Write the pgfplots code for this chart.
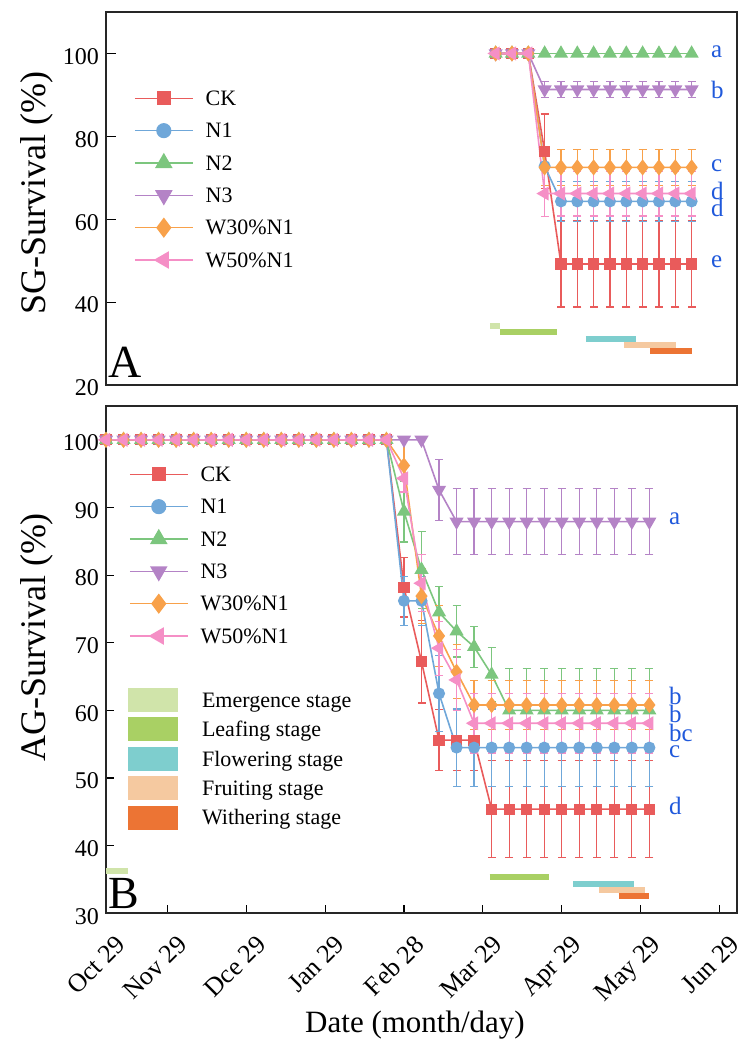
\documentclass[border=0pt]{standalone}
\usepackage{fontspec}
\setmainfont{Liberation Serif}
\usepackage{pgfplots}
\usepackage{pgfplotstable}
\pgfplotsset{compat=1.18}
\definecolor{cCK}{HTML}{E95B5B}
\definecolor{cNa}{HTML}{6FA7D9}
\definecolor{cNb}{HTML}{7CC67E}
\definecolor{cNc}{HTML}{B483C6}
\definecolor{cWa}{HTML}{F8A14A}
\definecolor{cWb}{HTML}{F58FC6}
\definecolor{cLet}{HTML}{2059DB}
\definecolor{cEm}{HTML}{D0E4AA}
\definecolor{cLe}{HTML}{A9D064}
\definecolor{cFl}{HTML}{7ECECE}
\definecolor{cFr}{HTML}{F5C9A0}
\definecolor{cWi}{HTML}{EC7434}

\pgfplotstableread{
i CK CKe N1 N1e N2 N2e N3 N3e W3 W3e W5 W5e
0 100 0 100 0 100 0 100 0 100 0 100 0
1 100 0 100 0 100 0 100 0 100 0 100 0
2 100 0 100 0 100 0 100 0 100 0 100 0
3 76.4 9.0 72.8 4.6 100 0 91.3 2.0 72.5 4.3 66.2 5.5
4 49.2 10.4 64.3 4.8 100 0 91.3 2.0 72.5 4.3 66.2 5.4
5 49.2 10.4 64.3 4.8 100 0 91.3 2.0 72.5 4.3 66.2 5.4
6 49.2 10.4 64.3 4.8 100 0 91.3 2.0 72.5 4.3 66.2 5.4
7 49.2 10.4 64.3 4.8 100 0 91.3 2.0 72.5 4.3 66.2 5.4
8 49.2 10.4 64.3 4.8 100 0 91.3 2.0 72.5 4.3 66.2 5.4
9 49.2 10.4 64.3 4.8 100 0 91.3 2.0 72.5 4.3 66.2 5.4
10 49.2 10.4 64.3 4.8 100 0 91.3 2.0 72.5 4.3 66.2 5.4
11 49.2 10.4 64.3 4.8 100 0 91.3 2.0 72.5 4.3 66.2 5.4
12 49.2 10.4 64.3 4.8 100 0 91.3 2.0 72.5 4.3 66.2 5.4
}\topdata

\pgfplotstableread{
i CK CKe N1 N1e N2 N2e N3 N3e W3 W3e W5 W5e
0 100 0 100 0 100 0 100 0 100 0 100 0
1 100 0 100 0 100 0 100 0 100 0 100 0
2 100 0 100 0 100 0 100 0 100 0 100 0
3 100 0 100 0 100 0 100 0 100 0 100 0
4 100 0 100 0 100 0 100 0 100 0 100 0
5 100 0 100 0 100 0 100 0 100 0 100 0
6 100 0 100 0 100 0 100 0 100 0 100 0
7 100 0 100 0 100 0 100 0 100 0 100 0
8 100 0 100 0 100 0 100 0 100 0 100 0
9 100 0 100 0 100 0 100 0 100 0 100 0
10 100 0 100 0 100 0 100 0 100 0 100 0
11 100 0 100 0 100 0 100 0 100 0 100 0
12 100 0 100 0 100 0 100 0 100 0 100 0
13 100 0 100 0 100 0 100 0 100 0 100 0
14 100 0 100 0 100 0 100 0 100 0 100 0
15 100 0 100 0 100 0 100 0 100 0 100 0
16 100 0 100 0 100 0 100 0 100 0 100 0
17 78.2 4.4 76.2 3.6 89.4 4.5 100 0 96.2 3.8 94.3 2.0
18 67.2 6.1 76.2 3.6 80.8 5.7 100 0 76.9 4.0 78.8 4.2
19 55.6 4.5 62.5 5.6 74.5 3.8 92.6 4.5 71.0 4.5 69.2 4.0
20 55.6 4.5 54.5 5.7 71.7 3.8 87.9 4.9 65.7 4.0 64.5 4.5
21 55.6 4.5 54.5 5.7 69.4 3.0 87.9 4.9 60.8 3.6 58.1 4.4
22 45.4 7.2 54.5 5.7 65.3 4.0 87.9 4.9 60.8 3.6 58.1 4.4
23 45.4 7.2 54.5 5.7 60.0 6.2 87.9 4.9 60.8 3.6 58.1 4.4
24 45.4 7.2 54.5 5.7 60.0 6.2 87.9 4.9 60.8 3.6 58.1 4.4
25 45.4 7.2 54.5 5.7 60.0 6.2 87.9 4.9 60.8 3.6 58.1 4.4
26 45.4 7.2 54.5 5.7 60.0 6.2 87.9 4.9 60.8 3.6 58.1 4.4
27 45.4 7.2 54.5 5.7 60.0 6.2 87.9 4.9 60.8 3.6 58.1 4.4
28 45.4 7.2 54.5 5.7 60.0 6.2 87.9 4.9 60.8 3.6 58.1 4.4
29 45.4 7.2 54.5 5.7 60.0 6.2 87.9 4.9 60.8 3.6 58.1 4.4
30 45.4 7.2 54.5 5.7 60.0 6.2 87.9 4.9 60.8 3.6 58.1 4.4
31 45.4 7.2 54.5 5.7 60.0 6.2 87.9 4.9 60.8 3.6 58.1 4.4
}\botdata

\pgfplotsset{
  base/.style={
    scale only axis, width=315.5pt,
    axis line style={line width=0.9pt, black!85},
    tick style={line width=0.6pt, black},
    tick align=inside, major tick length=5pt,
    ytick pos=left,
    /pgf/number format/assume math mode=true,
    ticklabel style={font=\fontsize{12}{14}\selectfont},
    yticklabel style={yshift=-1.5pt},
    legend cell align=left,
    legend style={draw=none, fill=none, inner sep=0pt, outer sep=0pt,
      row sep=4.17pt, column sep=6pt, font=\fontsize{11}{13}\selectfont,
      nodes={inner sep=0pt, text height=9.65pt, text depth=2.35pt}},
    legend image code/.code={\draw[mark repeat=2, mark phase=2, ##1, every mark/.append style={scale=1.3}] plot coordinates {(0pt,0pt) (14.5pt,0pt) (29pt,0pt)};},
  },
  ser/.style n args={4}{color=#1, line width=0.8pt, mark=#2, mark size=#3,
    mark options={solid, fill=#1, draw=#1, rotate=#4},
    error bars/.cd, y dir=both, y explicit, error mark=-,
    error bar style={line width=0.6pt, color=#1, solid},
    error mark options={line width=0.6pt, mark size=2pt, color=#1, rotate=90}},
  stage/.style={forget plot, mark=none, line width=3pt, line cap=butt, color=#1},
  stagel/.style={mark=none, line width=3pt, line cap=butt, color=#1,
    legend image code/.code={\fill[#1] (0pt,-4.5pt) rectangle (22pt,4.5pt);}},
}

\begin{document}
\begin{tikzpicture}
\path[use as bounding box] (0,0) rectangle (375pt,-521.5pt);

% ---------- Panel A ----------
\begin{axis}[base, at={(53pt,-192.5pt)}, anchor=south west, height=186.5pt,
  xmin=-23.86, xmax=14.78, ymin=20, ymax=110, ytick={20,40,60,80,100}, xtick=\empty,
  ylabel={SG-Survival (\%)},
  ylabel style={at={(axis description cs:-0.11,0.515)}, anchor=center, font=\fontsize{18}{18}\selectfont},
  legend style={at={(axis description cs:0.0444,0.8008)}, anchor=north west}]
\addplot[ser={cCK}{square*}{2.4pt}{0}] table[x=i, y=CK, y error=CKe] {\topdata};
\addplot[ser={cNa}{*}{2.6pt}{0}] table[x=i, y=N1, y error=N1e] {\topdata};
\addplot[ser={cNb}{triangle*}{3.3pt}{0}] table[x=i, y=N2, y error=N2e] {\topdata};
\addplot[ser={cNc}{triangle*}{3.3pt}{180}] table[x=i, y=N3, y error=N3e] {\topdata};
\addplot[ser={cWa}{diamond*}{3.4pt}{0}] table[x=i, y=W3, y error=W3e] {\topdata};
\addplot[ser={cWb}{triangle*}{3.3pt}{90}] table[x=i, y=W5, y error=W5e] {\topdata};
\legend{CK,N1,N2,N3,W30\%N1,W50\%N1}
\addplot[stage=cEm] coordinates {(-0.35,34.3) (0.26,34.3)};
\addplot[stage=cLe] coordinates {(0.26,32.7) (3.73,32.7)};
\addplot[stage=cFl] coordinates {(5.53,31.1) (8.57,31.1)};
\addplot[stage=cFr] coordinates {(7.87,29.7) (11.02,29.7)};
\addplot[stage=cWi] coordinates {(9.47,28.1) (12.0,28.1)};
\begin{scope}[every node/.style={anchor=west, text=cLet, font=\fontsize{12.5}{12.5}\selectfont, inner sep=0pt}]
\node at (axis cs:13.17,100.3) {a};
\node at (axis cs:13.17,91.3) {b};
\node at (axis cs:13.17,72.8) {c};
\node at (axis cs:13.17,66.9) {d};
\node at (axis cs:13.17,62.7) {d};
\node at (axis cs:13.17,49.7) {e};
\end{scope}
\node[anchor=base west, inner sep=0pt, font=\fontsize{23}{23}\selectfont] at (axis description cs:0.004,0.019) {A};
\end{axis}

% ---------- Panel B ----------
\begin{axis}[base, at={(53pt,-456.65pt)}, anchor=south west, height=253.65pt,
  xmin=0, xmax=36, ymin=30, ymax=105, ytick={30,40,...,100},
  xtick={0,3.5,8,12.5,17,21.5,26,30.5,35},
  xticklabels={Oct 29,Nov 29,Dce 29,Jan 29,Feb 28,Mar 29,Apr 29,May 29,Jun 29},
  xtick pos=bottom, major tick length=4pt,
  xticklabel style={font=\fontsize{13}{13}\selectfont, xshift=4.4pt, yshift=-10pt, rotate=45, anchor=north east, inner sep=0pt},
  ylabel={AG-Survival (\%)},
  ylabel style={at={(axis description cs:-0.11,0.5437)}, anchor=center, font=\fontsize{18}{18}\selectfont},
  xlabel={Date (month/day)},
  xlabel style={at={(axis description cs:0.4897,-0.221)}, anchor=center, font=\fontsize{15.5}{15.5}\selectfont},
  legend style={at={(axis description cs:0.0364,0.889)}, anchor=north west}]
\addplot[ser={cCK}{square*}{2.4pt}{0}] table[x=i, y=CK, y error=CKe] {\botdata};
\addplot[ser={cNa}{*}{2.6pt}{0}] table[x=i, y=N1, y error=N1e] {\botdata};
\addplot[ser={cNb}{triangle*}{3.3pt}{0}] table[x=i, y=N2, y error=N2e] {\botdata};
\addplot[ser={cNc}{triangle*}{3.3pt}{180}] table[x=i, y=N3, y error=N3e] {\botdata};
\addplot[ser={cWa}{diamond*}{3.4pt}{0}] table[x=i, y=W3, y error=W3e] {\botdata};
\addplot[ser={cWb}{triangle*}{3.3pt}{90}] table[x=i, y=W5, y error=W5e] {\botdata};
\legend{CK,N1,N2,N3,W30\%N1,W50\%N1}
\begin{scope}[every node/.style={anchor=west, text=cLet, font=\fontsize{12.5}{12.5}\selectfont, inner sep=0pt}]
\node at (axis cs:32.1,88.3) {a};
\node at (axis cs:32.1,62.2) {b};
\node at (axis cs:32.1,59.5) {b};
\node at (axis cs:32.1,56.6) {bc};
\node at (axis cs:32.1,53.9) {c};
\node at (axis cs:32.1,45.9) {d};
\end{scope}
\node[anchor=base west, inner sep=0pt, font=\fontsize{23}{23}\selectfont] at (axis description cs:0.004,0.0104) {B};
\end{axis}

% ---------- Panel B stages (overlay) ----------
\begin{axis}[base, at={(53pt,-456.65pt)}, anchor=south west, height=253.65pt,
  xmin=0, xmax=36, ymin=30, ymax=105, hide axis,
  legend style={at={(axis description cs:0.0349,0.4441)}, anchor=north west,
    row sep=2.7pt, column sep=12pt}]
\addplot[stagel=cEm] coordinates {(0,36.3) (1.27,36.3)};
\addplot[stagel=cLe] coordinates {(21.88,35.35) (25.3,35.35)};
\addplot[stagel=cFl] coordinates {(26.67,34.36) (30.1,34.36)};
\addplot[stagel=cFr] coordinates {(28.15,33.47) (30.74,33.47)};
\addplot[stagel=cWi] coordinates {(29.25,32.58) (31.0,32.58)};
\legend{Emergence stage,Leafing stage,Flowering stage,Fruiting stage,Withering stage}
\end{axis}
\end{tikzpicture}
\end{document}
